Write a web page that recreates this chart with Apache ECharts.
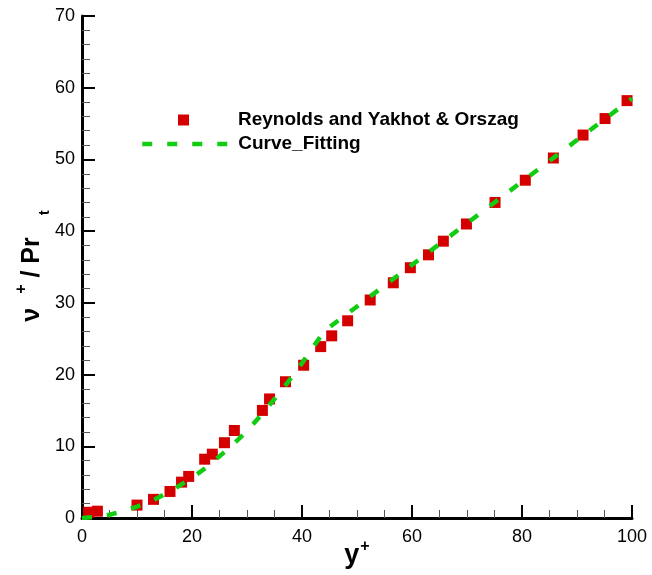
<!DOCTYPE html>
<html>
<head>
<meta charset="utf-8">
<script src="https://cdn.jsdelivr.net/npm/echarts@6/dist/echarts.min.js"></script>
<style>
html,body{margin:0;padding:0;background:#fff;}
#chart{width:652px;height:575px;}
</style>
</head>
<body>
<div id="chart"></div>
<script>
// Reference data
const seriesNames = ['Reynolds and Yakhot & Orszag', 'Curve_Fitting'];
const dataX = [1.2, 2.8, 10.0, 13.0, 16.0, 18.1, 19.4, 22.3, 23.7, 25.9, 27.7, 32.8, 34.1, 37.0, 40.3, 43.4, 45.4, 48.3, 52.4, 56.6, 59.7, 63.0, 65.7, 69.9, 75.1, 80.6, 85.7, 91.1, 95.1, 99.1];
const dataY = [0.8, 0.95, 1.8, 2.6, 3.7, 5.0, 5.8, 8.2, 8.9, 10.5, 12.2, 15.0, 16.6, 19.0, 21.3, 23.9, 25.4, 27.5, 30.4, 32.8, 34.9, 36.7, 38.6, 41.0, 44.0, 47.1, 50.2, 53.4, 55.7, 58.2];
const curveX = [0, 2.5, 5, 7.5, 10, 12.5, 15, 17.5, 20, 22.5, 25, 27.5, 30, 32.5, 35, 37.5, 40, 42, 44, 46, 50, 55, 60, 65, 70, 75, 80, 85, 90, 95, 100];
const curveY = [0, 0.15, 0.45, 0.95, 1.6, 2.3, 3.3, 4.4, 5.6, 7.0, 8.6, 10.3, 12.1, 14.3, 16.6, 19.0, 21.6, 23.8, 26.0, 27.2, 29.5, 32.4, 35.3, 38.2, 41.1, 44.0, 46.9, 49.8, 52.7, 55.6, 58.5];
const xTicks = {min: 0, max: 100, interval: 20};
const yTicks = {min: 0, max: 70, interval: 10};

const FONT = "'Liberation Sans', Arial, sans-serif";
const RED = '#d40000';
const GREEN = '#11cc11';
const chart = echarts.init(document.getElementById('chart'), null, {renderer: 'canvas'});

const axisLine = {show: true, lineStyle: {color: '#000', width: 3}};
const axisTick = {show: true, inside: true, length: 13, lineStyle: {color: '#000', width: 2}};
const legendText = {fontFamily: FONT, fontSize: 19, fontWeight: 'bold', color: '#000', lineHeight: 20};

chart.setOption({
  animation: false,
  backgroundColor: '#fff',
  grid: {left: 82, right: 20, top: 16, bottom: 57, containLabel: false, outerBoundsMode: 'none'},
  legend: [
    {
      data: [seriesNames[0]],
      left: 173, top: 105,
      icon: 'rect',
      itemWidth: 11, itemHeight: 11,
      itemStyle: {color: RED, opacity: 1},
      textStyle: Object.assign({padding: [0, 0, 0, 44]}, legendText)
    },
    {
      data: [seriesNames[1]],
      left: 135, top: 129,
      icon: 'inherit',
      itemWidth: 88, itemHeight: 11,
      itemStyle: {color: 'rgba(0,0,0,0)', borderWidth: 0, opacity: 0},
      lineStyle: {color: GREEN, width: 4.5, type: [10, 15], cap: 'butt', opacity: 1},
      textStyle: Object.assign({padding: [0, 0, 0, 3]}, legendText)
    }
  ],
  xAxis: {
    type: 'value',
    min: xTicks.min, max: xTicks.max, interval: xTicks.interval,
    axisLine: axisLine, axisTick: axisTick,
    splitLine: {show: false},
    minorTick: {show: true, splitNumber: 4, length: 8, lineStyle: {color: '#555', width: 1}},
    axisLabel: {fontFamily: FONT, fontSize: 18, color: '#000', margin: 10},
    name: '{b|y}{s|+}',
    nameLocation: 'middle',
    nameMoveOverlap: false,
    nameGap: 21,
    nameTextStyle: {
      rich: {
        b: {fontFamily: FONT, fontSize: 27, fontWeight: 'bold', color: '#000', lineHeight: 30, verticalAlign: 'bottom'},
        s: {fontFamily: FONT, fontSize: 16, fontWeight: 'bold', color: '#000', lineHeight: 30, verticalAlign: 'top', padding: [0, 0, 0, 1]}
      }
    }
  },
  yAxis: {
    type: 'value',
    min: yTicks.min, max: yTicks.max, interval: yTicks.interval,
    axisLine: axisLine, axisTick: axisTick,
    splitLine: {show: false},
    minorTick: {show: true, splitNumber: 5, length: 8, lineStyle: {color: '#555', width: 1}},
    axisLabel: {fontFamily: FONT, fontSize: 18, color: '#000', margin: 7},
    name: '{b|ν}{g1| }{s|+}{b| / Pr}{g2| }{t|t}',
    nameLocation: 'middle',
    nameRotate: 90,
    nameMoveOverlap: false,
    nameGap: 30,
    nameTextStyle: {
      padding: [0, 0, 0, 2],
      rich: {
        b: {fontFamily: FONT, fontSize: 25, fontWeight: 'bold', color: '#000', lineHeight: 34, verticalAlign: 'middle'},
        g1: {fontFamily: FONT, fontSize: 14, color: '#000', lineHeight: 34, width: 14},
        g2: {fontFamily: FONT, fontSize: 14, color: '#000', lineHeight: 34, width: 22},
        s: {fontFamily: FONT, fontSize: 16, fontWeight: 'bold', color: '#000', verticalAlign: 'middle', padding: [0, 0, 20, 0]},
        t: {fontFamily: FONT, fontSize: 15, fontWeight: 'bold', color: '#000', verticalAlign: 'middle', padding: [25, 0, 0, 0]}
      }
    }
  },
  series: [
    {
      name: seriesNames[0],
      type: 'scatter',
      symbol: 'rect',
      symbolSize: 11,
      itemStyle: {color: RED, opacity: 1},
      data: dataX.map((x, i) => [x, dataY[i]]),
      z: 2
    },
    {
      name: seriesNames[1],
      type: 'line',
      symbol: 'none',
      showSymbol: false,
      smooth: false,
      lineStyle: {color: GREEN, width: 4.5, type: [10, 15], cap: 'butt'},
      itemStyle: {color: GREEN},
      data: curveX.map((x, i) => [x, curveY[i]]),
      z: 3
    }
  ]
});
</script>
</body>
</html>
